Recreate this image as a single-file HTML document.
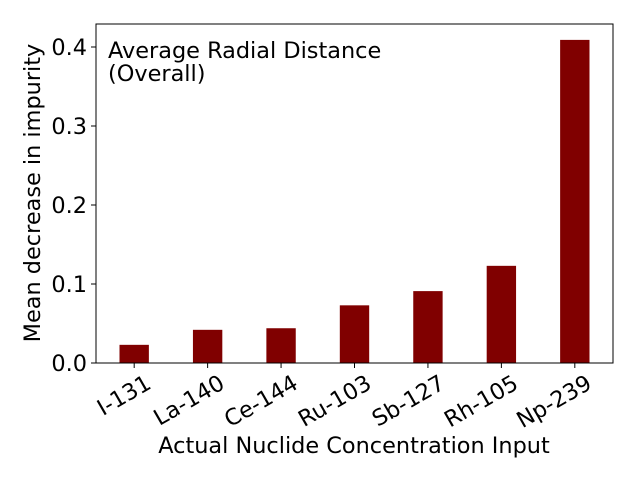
<!DOCTYPE html>
<html><head><meta charset="utf-8"><style>
body{margin:0;background:#fff}
svg{display:block;font-family:"DejaVu Sans","Liberation Sans",sans-serif}
</style></head><body>
<svg id="chart" width="640" height="480">
<rect x="0" y="0" width="640" height="480" fill="#fff"/>
<g id="bars"></g>
<g id="axes"></g>
<rect x="96" y="24" width="517" height="339" fill="none" stroke="#000" stroke-width="1"/>
<text x="108" y="58" font-size="22.4">Average Radial Distance</text>
<text x="108" y="81" font-size="22.4">(Overall)</text>
<text x="354" y="453" font-size="22.4" text-anchor="middle">Actual Nuclide Concentration Input</text>
<text transform="translate(40,193) rotate(-90)" font-size="22.4" text-anchor="middle">Mean decrease in impurity</text>
</svg>
<script>
const categories=["I-131","La-140","Ce-144","Ru-103","Sb-127","Rh-105","Np-239"];
const values=[0.023,0.042,0.044,0.073,0.091,0.123,0.409];
const yTicks=[0.0,0.1,0.2,0.3,0.4];
const yTickLabels=["0.0","0.1","0.2","0.3","0.4"];
const L=96,R=613,T=24,B=363;
const xMin=-0.52,xMax=categories.length-1+0.52;
const xs=i=>L+(i-xMin)/(xMax-xMin)*(R-L);
const ys=v=>B-v/0.4*(B-47);
const bw=0.4*(R-L)/(xMax-xMin);
const NS="http://www.w3.org/2000/svg";
const bars=document.getElementById('bars'),axes=document.getElementById('axes');
values.forEach((v,i)=>{
 const r=document.createElementNS(NS,'rect');
 r.setAttribute('x',xs(i)-bw/2);r.setAttribute('y',ys(v));
 r.setAttribute('width',bw);r.setAttribute('height',B-ys(v));
 r.setAttribute('fill','#800000');
 
 
 bars.appendChild(r);
 const t=document.createElementNS(NS,'line');
 t.setAttribute('x1',xs(i));t.setAttribute('x2',xs(i));t.setAttribute('y1',B);t.setAttribute('y2',B+5);
 t.setAttribute('stroke','#000');
 
 
 axes.appendChild(t);
 const tx=document.createElementNS(NS,'text');
 const cx=xs(i)+10,cy=B+10;
 tx.setAttribute('transform','translate('+cx+','+cy+') rotate(-30)');
 tx.setAttribute('text-anchor','end');tx.setAttribute('dy','0.75em');
 tx.setAttribute('font-size','22.4');
 tx.textContent=categories[i];
 
 
 axes.appendChild(tx);
});
yTicks.forEach((v,i)=>{
 const y=ys(v);
 const t=document.createElementNS(NS,'line');
 t.setAttribute('x1',L-5);t.setAttribute('x2',L);t.setAttribute('y1',y);t.setAttribute('y2',y);
 t.setAttribute('stroke','#000');
 
 
 axes.appendChild(t);
 const tx=document.createElementNS(NS,'text');
 tx.setAttribute('x',L-9);tx.setAttribute('y',y+8);
 tx.setAttribute('text-anchor','end');tx.setAttribute('font-size','22.4');
 tx.textContent=yTickLabels[i];
 
 
 axes.appendChild(tx);
});
</script>
</body></html>
